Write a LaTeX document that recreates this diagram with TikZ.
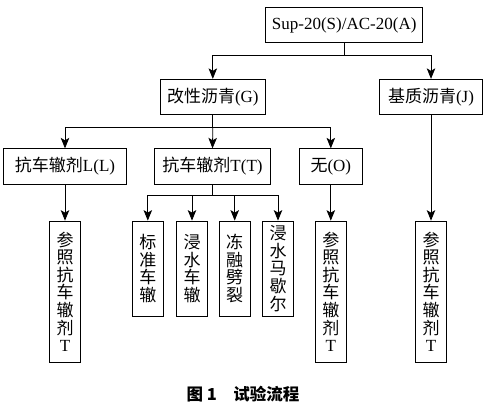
\documentclass[tikz,border=0pt]{standalone}
\usepackage{fontspec}
\setmainfont{Liberation Serif}
\newfontfamily\cjk{Noto Sans CJK SC}
\usepackage{tikz}
\usetikzlibrary{arrows.meta, calc}
\tikzset{
    box/.style={draw, line width=0.8pt, minimum height=35.5pt, inner sep=0pt, font=\fontsize{17}{17.6}\selectfont},
    vbox/.style={draw, line width=0.8pt, minimum width=30.7pt, inner sep=0pt, align=center, font=\fontsize{17}{17.6}\selectfont\cjk},
    link/.style={line width=0.8pt},
    arrow_link/.style={link, -{Stealth[length=10.5pt, width=8.5pt, inset=2.5pt]}}
}

\begin{document}
\begin{tikzpicture}[x=1pt, y=-1pt]
    \useasboundingbox (0,0) rectangle (489,410);
    % Mixture and asphalt
    \node[box, minimum width=157pt] (mix) at (344.2,25) {Sup-20(S)/AC-20(A)};
    \node[box, minimum width=105.7pt] (mod) at (212.8,97) {{\cjk 改性沥青}(G)};
    \node[box, minimum width=102.6pt] (base) at (431,97) {{\cjk 基质沥青}(J)};
    % Anti-rutting agents
    \node[box, minimum width=123.4pt] (agentL) at (65,166.5) {{\cjk 抗车辙剂}L(L)};
    \node[box, minimum width=116.4pt] (agentT) at (212.5,166.5) {{\cjk 抗车辙剂}T(T)};
    \node[box, minimum width=63pt] (none) at (330.8,166.5) {{\cjk 无}(O)};
    % Tests
    \node[vbox, minimum height=95pt] (rut) at (147.8,268.5) {标\\准\\车\\辙};
    \node[vbox, minimum height=95pt] (wetrut) at (192,268.5) {浸\\水\\车\\辙};
    \node[vbox, minimum height=95pt] (freeze) at (234.7,268.5) {冻\\融\\劈\\裂};
    \node[vbox, minimum height=95pt] (marshall) at (278,268.5) {浸\\水\\马\\歇\\尔};
    % Reference columns
    \node[vbox, minimum height=141.3pt] (refL) at (65,291.7) {参\\照\\抗\\车\\辙\\剂\\{\rmfamily T}};
    \node[vbox, minimum height=141.3pt] (refO) at (330.8,291.7) {参\\照\\抗\\车\\辙\\剂\\{\rmfamily T}};
    \node[vbox, minimum height=141.3pt] (refJ) at (431,291.7) {参\\照\\抗\\车\\辙\\剂\\{\rmfamily T}};
    % Forks
    \coordinate (mix_fork) at (mix.south |- 0,55);
    \coordinate (mod_fork) at (mod.south |- 0,127.7);
    \coordinate (agentT_fork) at (agentT.south |- 0,195.7);
    \draw[link] (mix.south) -- (mix_fork);
    \draw[arrow_link] (mix_fork) -| (mod.north);
    \draw[arrow_link] (mix_fork) -| (base.north);
    \draw[link] (mod.south) -- (mod_fork);
    \draw[arrow_link] (mod_fork) -| (agentL.north);
    \draw[arrow_link] (mod_fork) -- (agentT.north);
    \draw[arrow_link] (mod_fork) -| (none.north);
    \draw[link] (agentT.south) -- (agentT_fork);
    \foreach \t in {rut, wetrut, freeze, marshall}
        \draw[arrow_link] (agentT_fork) -| (\t.north);
    % Straight drops
    \draw[arrow_link] (agentL.south) -- (refL.north);
    \draw[arrow_link] (none.south) -- (refO.north);
    \draw[arrow_link] (base.south) -- (refJ.north);
    % Caption
    \node[font=\fontsize{16.5}{18}\selectfont\cjk\bfseries] (caption) at (243,394.5) {图~1\hspace{1em}试验流程};
\end{tikzpicture}
\end{document}
